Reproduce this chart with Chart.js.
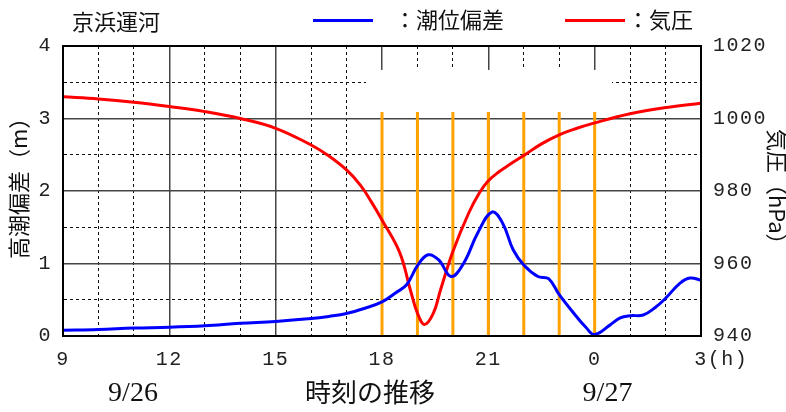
<!DOCTYPE html>
<html>
<head>
<meta charset="utf-8">
<script src="https://cdn.jsdelivr.net/npm/chart.js@4/dist/chart.umd.min.js"></script>
<style>
  html, body { margin: 0; padding: 0; background: #fff; }
  #wrap { width: 786px; height: 412px; }
</style>
</head>
<body>
<div id="wrap"><canvas id="c" width="786" height="412"></canvas></div>
<script>
// Hours are counted from 9/26 00:00 (24 = 9/27 00:00).
const tideHours  = [9, 10, 11, 12, 13, 14, 15, 16, 16.5, 17, 17.5, 18, 18.4, 18.7, 19, 19.3, 19.6, 19.95, 20.3, 20.7, 21.1, 21.4, 21.7, 22, 22.4, 22.7, 23, 23.4, 23.75, 24, 24.43, 24.72, 25, 25.37, 25.7, 26, 26.41, 26.69, 27];
const tideValues = [0.08, 0.09, 0.11, 0.12, 0.14, 0.175, 0.20, 0.24, 0.27, 0.31, 0.38, 0.47, 0.60, 0.71, 0.97, 1.12, 1.05, 0.82, 1.00, 1.42, 1.71, 1.56, 1.19, 0.98, 0.82, 0.79, 0.57, 0.32, 0.12, 0.02, 0.15, 0.25, 0.28, 0.29, 0.39, 0.52, 0.73, 0.80, 0.77];

const pressureHours  = [9, 10, 11, 12, 13, 14, 15, 16, 16.45, 17, 17.4, 17.7, 18, 18.5, 18.8, 19, 19.2, 19.45, 19.65, 20, 20.45, 20.75, 21, 21.3, 21.6, 22, 22.5, 23, 23.5, 24, 25, 26, 27];
const pressureValues = [1006.0, 1005.4, 1004.5, 1003.3, 1001.9, 1000.0, 997.3, 992.7, 990.0, 985.8, 981.5, 977.0, 972.0, 963.0, 952.7, 946.3, 943.2, 946.3, 952.7, 963.3, 974.0, 979.5, 982.8, 985.3, 987.3, 989.8, 993.0, 995.5, 997.3, 998.8, 1001.3, 1003.0, 1004.2];

// Hourly markers during the storm passage
const markerHours = [18, 19, 20, 21, 22, 23, 24];
const markerTop = 3.09;

// Axis tick labels
const xTickLabels = { 9: '9', 12: '12', 15: '15', 18: '18', 21: '21', 24: '0', 27: '   3(h)' };
const tideTickLabels = { 0: '0', 1: '1', 2: '2', 3: '3', 4: '4' };
const pressureTickLabels = { 940: '940', 960: '960', 980: '980', 1000: '1000', 1020: '1020' };

const TICK_FONT = { family: 'Liberation Mono', size: 20 };
const CJK = '"Noto Sans CJK JP"';

const toPoints = (xs, ys) => xs.map((x, i) => ({ x: x, y: ys[i] }));

const markerSets = markerHours.map(h => ({
  data: [{ x: h, y: 0 }, { x: h, y: markerTop }],
  yAxisID: 'y',
  borderColor: '#FFA200',
  borderWidth: 3,
  pointRadius: 0,
  tension: 0,
  order: 3
}));

const major = v => v % 3 === 0;
const gridColor = c => (c.tick && major(c.tick.value)) ? '#444' : '#111';
const gridWidth = c => (c.tick && major(c.tick.value)) ? 1.5 : 1;
const gridDash = c => (c.tick && !major(c.tick.value)) ? [3, 3] : [];
const yGridColor = c => (c.tick && Number.isInteger(c.tick.value)) ? '#444' : '#111';
const yGridWidth = c => (c.tick && Number.isInteger(c.tick.value)) ? 1.5 : 1;
const yGridDash = c => (c.tick && !Number.isInteger(c.tick.value)) ? [3, 3] : [];

const decorations = {
  id: 'decorations',
  beforeDraw(chart) {
    chart.ctx.letterSpacing = '1.5px';
  },
  beforeDatasetsDraw(chart) {
    // blank band across the upper grid
    const { ctx, scales } = chart;
    const x0 = scales.x.getPixelForValue(17.55), x1 = scales.x.getPixelForValue(24.49);
    const y0 = scales.y.getPixelForValue(3.67), y1 = scales.y.getPixelForValue(3.09);
    ctx.save();
    ctx.fillStyle = '#fff';
    ctx.fillRect(x0, y0, x1 - x0, y1 - y0);
    ctx.restore();
  },
  afterDraw(chart) {
    const { ctx, chartArea: a } = chart;
    ctx.save();
    ctx.letterSpacing = '0px';
    // plot frame
    ctx.strokeStyle = '#000';
    ctx.lineWidth = 2;
    ctx.strokeRect(a.left, a.top, a.right - a.left, a.bottom - a.top);

    ctx.fillStyle = '#111';
    ctx.textBaseline = 'middle';
    ctx.textAlign = 'left';
    ctx.font = '22px ' + CJK;
    ctx.fillText('京浜運河', 72, 22);

    // legend
    ctx.lineWidth = 3;
    ctx.strokeStyle = '#0000FF';
    ctx.beginPath(); ctx.moveTo(313, 20.5); ctx.lineTo(373, 20.5); ctx.stroke();
    ctx.fillText('：潮位偏差', 394, 20);
    ctx.strokeStyle = '#FF0000';
    ctx.beginPath(); ctx.moveTo(565, 20.5); ctx.lineTo(625, 20.5); ctx.stroke();
    ctx.fillText('：気圧', 627, 20);

    // axis titles
    ctx.save();
    ctx.translate(18.5, 259);
    ctx.rotate(-Math.PI / 2);
    ctx.fillText('高潮偏差（m）', 0, 0);
    ctx.restore();

    ctx.save();
    ctx.translate(777, 129);
    ctx.rotate(Math.PI / 2);
    ctx.fillText('気圧（hPa）', 0, 0);
    ctx.restore();

    ctx.textAlign = 'center';
    ctx.font = '26px ' + CJK;
    ctx.fillText('時刻の推移', 370, 392);
    ctx.font = '28px "Liberation Serif"';
    ctx.fillText('9/26', 133, 394);
    ctx.fillText('9/27', 607.5, 394);
    ctx.restore();
  }
};

new Chart(document.getElementById('c'), {
  type: 'line',
  data: {
    datasets: [
      {
        label: '潮位偏差',
        data: toPoints(tideHours, tideValues),
        yAxisID: 'y',
        borderColor: '#0000FF',
        borderWidth: 3,
        pointRadius: 0,
        tension: 0.4,
        order: 1
      },
      {
        label: '気圧',
        data: toPoints(pressureHours, pressureValues),
        yAxisID: 'y2',
        borderColor: '#FF0000',
        borderWidth: 3,
        pointRadius: 0,
        tension: 0.4,
        order: 2
      },
      ...markerSets
    ]
  },
  options: {
    responsive: false,
    animation: false,
    devicePixelRatio: 1,
    layout: { padding: { top: 46, left: 0, right: 0, bottom: 0 } },
    plugins: { legend: { display: false }, title: { display: false }, tooltip: { enabled: false } },
    scales: {
      x: {
        type: 'linear',
        min: 9, max: 27,
        afterFit: s => { s.height = 76; },
        ticks: {
          stepSize: 1, autoSkip: false, maxRotation: 0, padding: 12,
          font: TICK_FONT, color: '#222',
          callback: v => xTickLabels[v] ?? ''
        },
        grid: { drawTicks: false, color: gridColor, lineWidth: gridWidth },
        border: { display: true, color: '#000', width: 2, dash: gridDash }
      },
      y: {
        position: 'left',
        min: 0, max: 4,
        afterFit: s => { s.width = 63; },
        ticks: {
          stepSize: 0.5, autoSkip: false, padding: 11,
          font: TICK_FONT, color: '#222',
          callback: v => tideTickLabels[v] ?? ''
        },
        grid: { drawTicks: false, color: yGridColor, lineWidth: yGridWidth },
        border: { display: true, color: '#000', width: 2, dash: yGridDash }
      },
      y2: {
        position: 'right',
        min: 940, max: 1020,
        afterFit: s => { s.width = 85; },
        ticks: {
          stepSize: 10, autoSkip: false, padding: 12,
          font: TICK_FONT, color: '#222',
          callback: v => pressureTickLabels[v] ?? ''
        },
        grid: { drawOnChartArea: false, drawTicks: false },
        border: { display: true, color: '#000', width: 2 }
      }
    }
  },
  plugins: [decorations]
});
</script>
</body>
</html>
